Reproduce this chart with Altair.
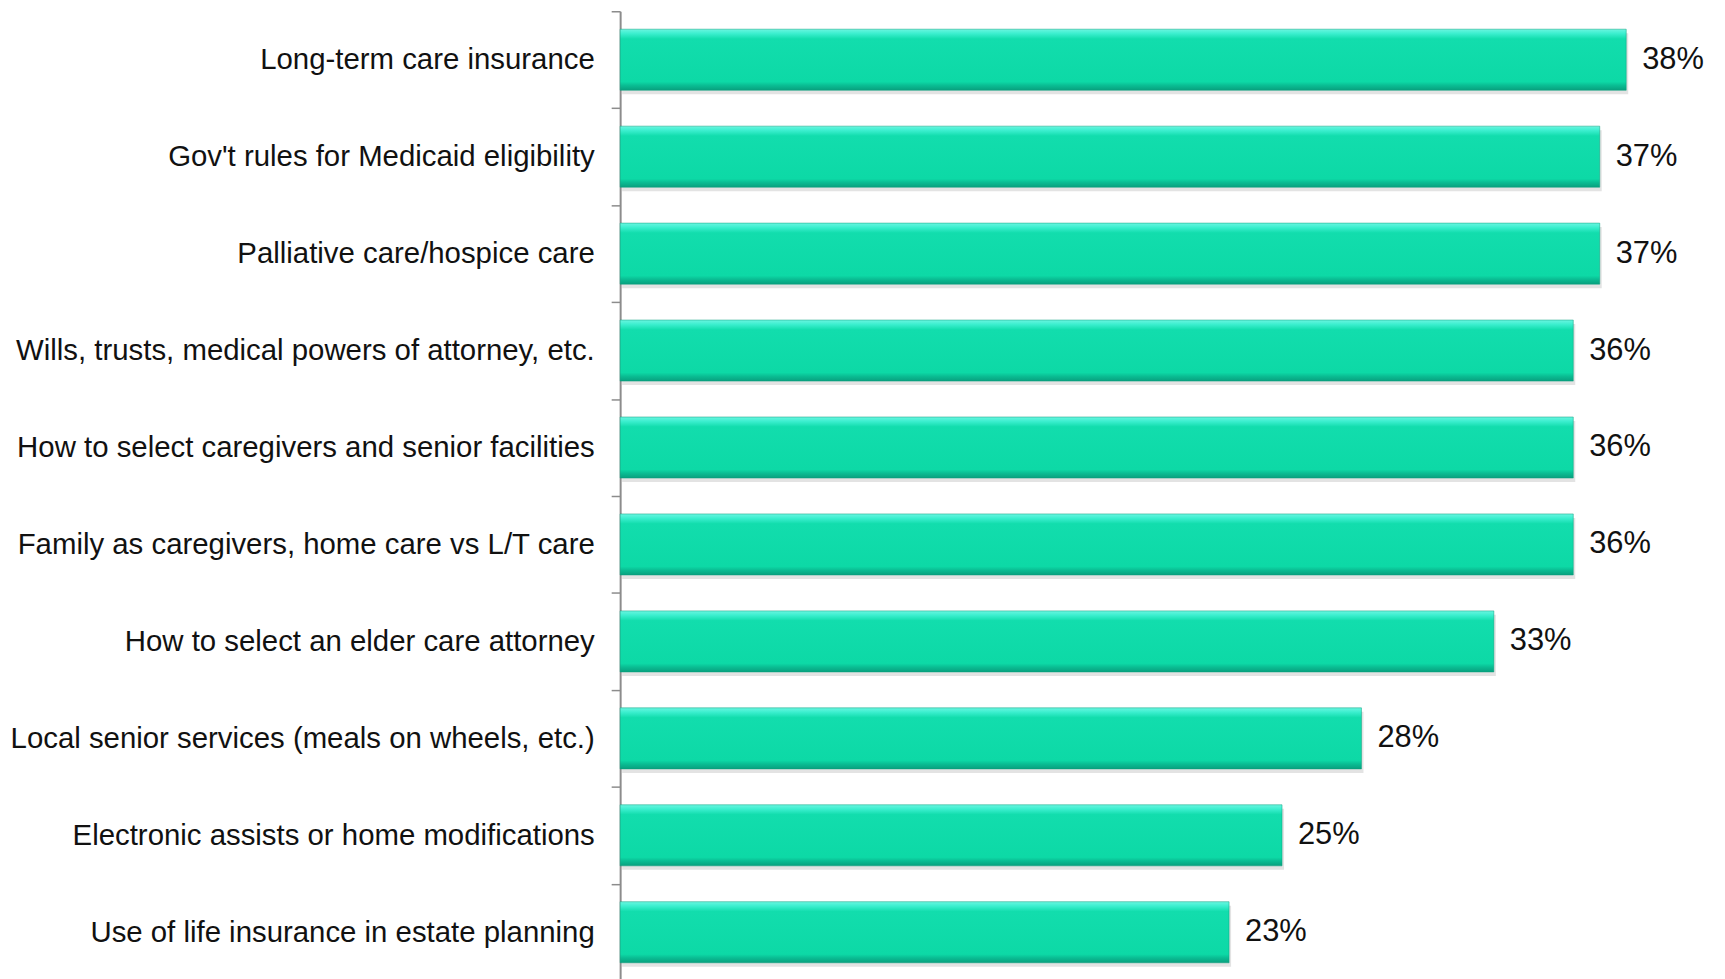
import altair as alt
import pandas as pd

categories = [
    "Long-term care insurance",
    "Gov't rules for Medicaid eligibility",
    "Palliative care/hospice care",
    "Wills, trusts, medical powers of attorney, etc.",
    "How to select caregivers and senior facilities",
    "Family as caregivers, home care vs L/T care",
    "How to select an elder care attorney",
    "Local senior services (meals on wheels, etc.)",
    "Electronic assists or home modifications",
    "Use of life insurance in estate planning",
]
values = [38, 37, 37, 36, 36, 36, 33, 28, 25, 23]
labels = [f"{v}%" for v in values]

df = pd.DataFrame({"cat": categories, "val": values, "lab": labels})

FONT = "Liberation Sans"

y_enc = alt.Y(
    "cat:N",
    sort=categories,
    title=None,
    scale=alt.Scale(paddingInner=0, paddingOuter=0),
    axis=alt.Axis(
        labelFont=FONT,
        labelFontSize=29.5,
        labelColor="#111111",
        labelPadding=17,
        labelLimit=800,
        domainColor="#8c8c8c",
        domainWidth=2,
        tickColor="#8c8c8c",
        tickWidth=1.5,
        tickSize=9,
        tickBand="extent",
        grid=False,
    ),
)
x_enc = alt.X("val:Q", scale=alt.Scale(domain=[0, 40], nice=False), axis=None)

base = alt.Chart(df)

shadow = base.mark_bar(
    height=alt.RelativeBandSize(0.63),
    color="#b0b0b0",
    opacity=0.35,
    yOffset=4,
    xOffset=2,
).encode(y=y_enc, x=x_enc)

bars = base.mark_bar(
    height=alt.RelativeBandSize(0.63),
    color=alt.Gradient(
        gradient="linear",
        x1=0, x2=0, y1=0, y2=1,
        stops=[
            alt.GradientStop(color="#6AF5E0", offset=0),
            alt.GradientStop(color="#3CEFCF", offset=0.07),
            alt.GradientStop(color="#12DDAD", offset=0.16),
            alt.GradientStop(color="#0DD9A6", offset=0.86),
            alt.GradientStop(color="#0ABD93", offset=0.92),
            alt.GradientStop(color="#08A07E", offset=1),
        ],
    ),
    stroke="#0A9F7D",
    strokeWidth=1,
    strokeOpacity=0.5,
).encode(y=y_enc, x=x_enc)

text = base.mark_text(
    align="left",
    baseline="middle",
    dx=16,
    font=FONT,
    fontSize=31,
    color="#111111",
).encode(y=y_enc, x=x_enc, text="lab:N")

chart = (
    alt.layer(shadow, bars, text)
    .properties(
        width=1064,
        height=974,
        autosize=alt.AutoSizeParams(type="none"),
        padding={"top": 1, "left": 615, "right": 38, "bottom": 0},
        background="#ffffff",
    )
    .configure_view(stroke=None)
)

chart.save("out.html", embed_options={"renderer": "svg", "actions": False})
